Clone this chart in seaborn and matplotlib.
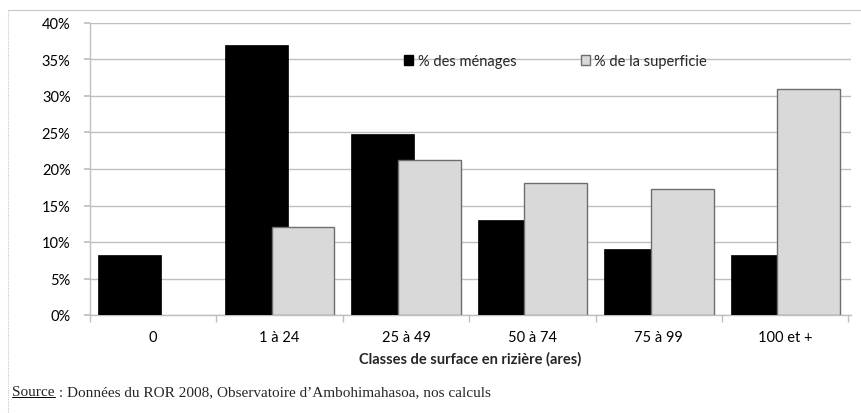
import matplotlib
matplotlib.use("Agg")
import matplotlib.pyplot as plt
import seaborn as sns
import pandas as pd
import numpy as np
from matplotlib.patches import Patch
from matplotlib.lines import Line2D
from matplotlib.ticker import FuncFormatter, FixedLocator

categories = ["0", "1 à 24", "25 à 49", "50 à 74", "75 à 99", "100 et +"]
menages = [8.2, 37.0, 24.8, 13.0, 9.0, 8.2]
superficie = [np.nan, 12.0, 21.3, 18.1, 17.3, 30.9]
series_names = ["% des ménages", "% de la superficie"]
x_label = "Classes de surface en rizière (ares)"
source_label = "Source"
source_rest = " : Données du ROR 2008, Observatoire d’Ambohimahasoa, nos calculs"

df = pd.DataFrame({
    "cat": categories * 2,
    "val": menages + superficie,
    "serie": [series_names[0]] * len(categories) + [series_names[1]] * len(categories),
})

sns.set_theme(style="white")
plt.rcParams["font.family"] = ["Lato", "DejaVu Sans"]

fig = plt.figure(figsize=(8.61, 4.14), dpi=100)
ax = fig.add_axes([90 / 861, 1 - 316 / 414, 761 / 861, (316 - 24) / 414])

palette = {series_names[0]: "#000000", series_names[1]: "#d9d9d9"}
sns.barplot(data=df, x="cat", y="val", hue="serie", order=categories,
            hue_order=series_names, palette=palette, dodge=True, width=0.8,
            saturation=1, ax=ax, legend=False, zorder=3)

# Excel-style overlapping bars: width 0.496, centres at +/-0.185
bw = 0.496
off = 0.185
for p in ax.patches:
    cx = p.get_x() + p.get_width() / 2
    idx = int(round(cx))
    side = -1 if cx < idx else 1
    newc = idx + side * off
    p.set_width(bw)
    p.set_x(newc - bw / 2)
    if side == 1:
        p.set_edgecolor("#6e6e6e")
        p.set_linewidth(1.0)
        p.set_zorder(4)
    else:
        p.set_edgecolor("#000000")
        p.set_linewidth(0.5)
        p.set_zorder(3)

ax.set_xlim(-0.5, 5.5 + 0.02)
ax.set_ylim(0, 40)
ax.yaxis.set_major_locator(FixedLocator(np.arange(0, 41, 5)))
ax.yaxis.set_major_formatter(FuncFormatter(lambda v, p: f"{int(v)}%"))
ax.grid(axis="y", color="#bfbfbf", linewidth=1.0, zorder=0)
ax.grid(axis="x", visible=False)
ax.set_axisbelow(True)

for s in ["top", "right"]:
    ax.spines[s].set_visible(False)
for s in ["left", "bottom"]:
    ax.spines[s].set_color("#bfbfbf")
    ax.spines[s].set_linewidth(1.0)

ax.tick_params(axis="y", which="major", left=True, length=4, color="#bfbfbf",
               labelsize=10.5, pad=10, labelcolor="#000000")
ax.set_xticks(range(len(categories)))
ax.set_xticklabels(categories)
ax.tick_params(axis="x", which="major", length=0, labelsize=10.5, pad=11, labelcolor="#000000")
ax.set_xticks(np.arange(-0.5, 6, 1.0), minor=True)
ax.tick_params(axis="x", which="minor", bottom=True, length=5, color="#bfbfbf")

ax.set_xlabel(x_label, fontsize=10.5, fontweight="bold", labelpad=5)
ax.set_ylabel("")

handles = [Patch(facecolor="#000000", edgecolor="#000000"),
           Patch(facecolor="#d9d9d9", edgecolor="#6e6e6e")]
leg = ax.legend(handles, series_names, ncol=2, frameon=False, fontsize=10.5,
                loc="center left", bbox_to_anchor=((404 - 90) / 761, (316 - 62) / 292),
                bbox_transform=ax.transAxes, handlelength=0.65, handleheight=0.65,
                handletextpad=0.3, columnspacing=4.4, borderaxespad=0, borderpad=0)

# outer frame (top and left)
fig.add_artist(Line2D([8 / 861, 1.0], [1 - 11 / 414, 1 - 11 / 414], color="#c8c8c8",
                      linewidth=0.8, transform=fig.transFigure))
fig.add_artist(Line2D([8 / 861, 8 / 861], [0, 1 - 11 / 414], color="#c8c8c8",
                      linewidth=0.8, linestyle=(0, (1, 1)), transform=fig.transFigure))

# source note, "Source" underlined
t1 = fig.text(12 / 861, 1 - 393 / 414, source_label, fontsize=11,
              family=["Liberation Serif", "DejaVu Serif"], va="center", ha="left")
fig.canvas.draw()
r = fig.canvas.get_renderer()
bb = t1.get_window_extent(r)
x_end = bb.x1 / fig.dpi / 8.61
fig.text(x_end, 1 - 393 / 414, source_rest, fontsize=11,
         family=["Liberation Serif", "DejaVu Serif"], va="center", ha="left")
uy = (bb.y0 + 1.5) / (4.14 * fig.dpi)
fig.add_artist(Line2D([bb.x0 / (8.61 * fig.dpi), x_end], [uy, uy], color="black",
                      linewidth=0.7, transform=fig.transFigure))

fig.savefig("out.png", dpi=100)
